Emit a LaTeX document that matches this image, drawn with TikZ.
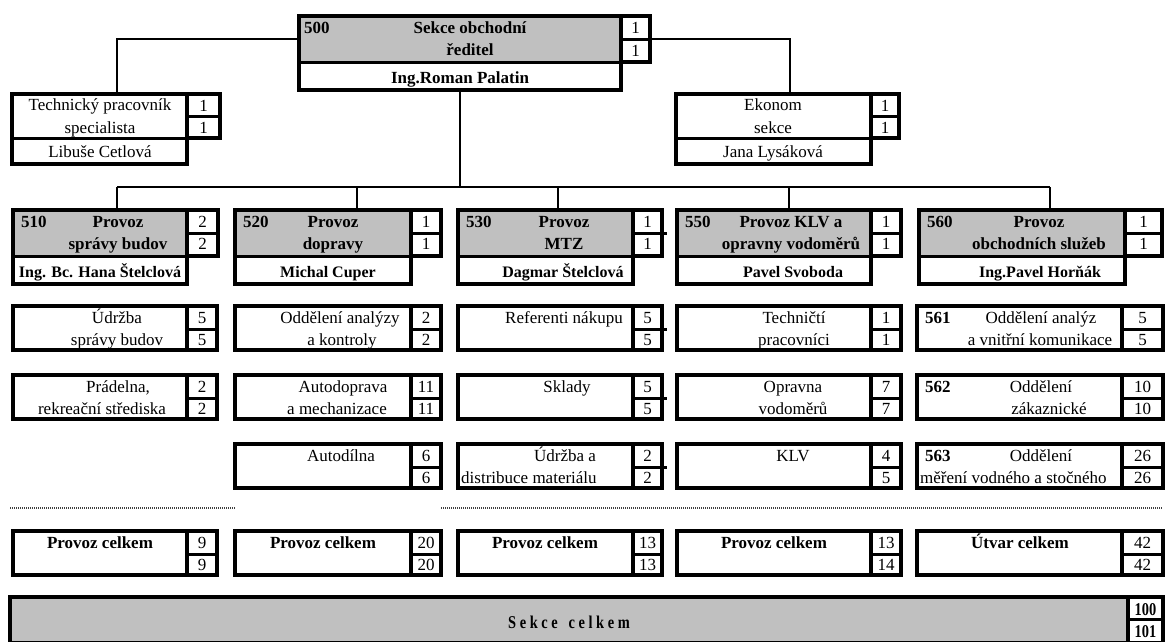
\documentclass[tikz,border=0pt]{standalone}
\usepackage{fontspec}
\setmainfont{Liberation Serif}
\newfontfamily\narrowf[FakeStretch=0.8]{Liberation Serif}
\definecolor{xg}{RGB}{192,192,192}
\newcommand\fs{\fontsize{17}{20}\selectfont}
\newcommand\fsb{\fontsize{17}{20}\selectfont\bfseries}
\newcommand\fsn{\fontsize{16}{19}\selectfont\bfseries}
\newcommand\fsk{\fontsize{18}{21}\selectfont\narrowf\bfseries}
\tikzset{
  unit/.style={draw, line width=3.5pt, inner sep=0pt, outer sep=0pt},
  sepl/.style={line width=3pt},
  conn/.style={line width=1.8pt},
  t/.style={inner sep=0pt, anchor=base, font=\fs},
  tb/.style={t, font=\fsb},
  tn/.style={t, font=\fsn},
  tk/.style={t, font=\fsk},
  dots/.style={line width=2pt, black!75, dash pattern=on 1pt off 1pt},
}
% name, xl, xr, xn, yt, ys, ym, yb
\newcommand\cellbox[8]{%
  \node[unit, minimum width={(#3-#2)*1pt}, minimum height={(#8-#5)*1pt}] (#1) at ({(#2+#3)/2},{(#5+#8)/2}) {};
  \node[unit, minimum width={(#4-#3)*1pt}, minimum height={(#7-#5)*1pt}] (#1n) at ({(#3+#4)/2},{(#5+#7)/2}) {};
  \draw[sepl] (#3,#6) -- (#4,#6);}
\newcommand\namesep[3]{\draw[sepl] (#1,#3) -- (#2,#3);}
\newcommand\grayhead[4]{\fill[xg] (#1,#2) rectangle (#3,#4);}
\newcommand\tx[5][t]{\node[#1] (#2) at (#3,#4) {#5};}
% name, x, y1, y2, a, b
\newcommand\nums[6]{\node[t] (#1a) at (#2,#3) {#5};\node[t] (#1b) at (#2,#4) {#6};}
\newcommand\deptbox[4]{\grayhead{#2}{210}{#3}{256}\cellbox{#1}{#2}{#3}{#4}{210}{233}{256}{284}\namesep{#2}{#3}{256}}
\newcommand\rowbox[5]{\cellbox{#1}{#2}{#3}{#4}{#5}{#5+23}{#5+44}{#5+44}}
\begin{document}
\begin{tikzpicture}[x=1pt,y=-1pt]
\useasboundingbox (0,0) rectangle (1165,641);
% ---------- top box
\grayhead{299}{16}{621}{62}
\cellbox{top}{299}{621}{650}{16}{39}{62}{90}
\namesep{299}{621}{62}
\tx[tb, anchor=base west]{t500}{304}{33}{500}
\tx[tb]{t500a}{470}{33}{Sekce obchodní}
\tx[tb]{t500b}{470}{55}{ředitel}
\tx[tb]{t500c}{460}{83}{Ing.Roman Palatin}
\nums{n500}{635.5}{33}{56}{1}{1}
% ---------- staff boxes
\cellbox{tech}{12}{187}{220}{94}{116}{138}{164}
\namesep{12}{187}{138}
\tx{tta}{100}{110}{Technický pracovník}
\tx{ttb}{100}{133}{specialista}
\tx{ttc}{100}{157}{Libuše Cetlová}
\nums{ntech}{203.5}{111}{133}{1}{1}
\cellbox{ekon}{676}{871}{899}{94}{116}{138}{164}
\namesep{676}{871}{138}
\tx{tea}{773}{110}{Ekonom}
\tx{teb}{773}{133}{sekce}
\tx{tec}{773}{157}{Jana Lysáková}
\nums{nekon}{885}{111}{133}{1}{1}
% ---------- departments
\deptbox{d510}{13}{187}{218}
\tx[tb, anchor=base west]{c510}{21}{227}{510}
\tx[tb]{d510a}{118}{227}{Provoz}
\tx[tb]{d510b}{118}{249}{správy budov}
\tx[tn]{d510c}{100}{277}{Ing. Bc. Hana Štelclová}
\nums{nd510}{202.5}{227}{249}{2}{2}
\deptbox{d520}{235}{411}{441}
\tx[tb, anchor=base west]{c520}{243}{227}{520}
\tx[tb]{d520a}{333}{227}{Provoz}
\tx[tb]{d520b}{333}{249}{dopravy}
\tx[tn]{d520c}{328}{277}{Michal Cuper}
\nums{nd520}{426}{227}{249}{1}{1}
\deptbox{d530}{458}{633}{662}
\tx[tb, anchor=base west]{c530}{466}{227}{530}
\tx[tb]{d530a}{564}{227}{Provoz}
\tx[tb]{d530b}{564}{249}{MTZ}
\tx[tn]{d530c}{563}{277}{Dagmar Štelclová}
\nums{nd530}{647.5}{227}{249}{1}{1}
\draw[sepl] (662,233) -- (667,233);
\deptbox{d550}{677}{871}{901}
\tx[tb, anchor=base west]{c550}{685}{227}{550}
\tx[tb]{d550a}{791}{227}{Provoz KLV a}
\tx[tb]{d550b}{791}{249}{opravny vodoměrů}
\tx[tn]{d550c}{793}{277}{Pavel Svoboda}
\nums{nd550}{886}{227}{249}{1}{1}
\deptbox{d560}{919}{1125}{1162}
\tx[tb, anchor=base west]{c560}{927}{227}{560}
\tx[tb]{d560a}{1039}{227}{Provoz}
\tx[tb]{d560b}{1039}{249}{obchodních služeb}
\tx[tn]{d560c}{1040}{277}{Ing.Pavel Horňák}
\nums{nd560}{1143.5}{227}{249}{1}{1}
% ---------- connectors
\coordinate (jL) at (117,39);
\coordinate (jR) at (790,39);
\draw[conn] (top.west |- jL) -- (jL) -- (jL |- tech.north);
\draw[conn] (topn.east |- jR) -- (jR) -- (jR |- ekon.north);
\coordinate (bus) at (460,187);
\coordinate (b1) at (117,187);
\coordinate (b2) at (357,187);
\coordinate (b3) at (558,187);
\coordinate (b4) at (789,187);
\coordinate (b5) at (1050,187);
\draw[conn] (top.south) -- (top.south |- bus);
\draw[conn] (b1) -- (b5);
\foreach \i/\n in {1/d510,2/d520,3/d530,4/d550,5/d560}
  \draw[conn] (b\i) -- (b\i |- \n.north);
% ---------- column 1
\rowbox{r11}{13}{187}{217}{306}
\tx{r11a}{117}{323}{Údržba}
\tx{r11b}{117}{345}{správy budov}
\nums{nr11}{202}{323}{345}{5}{5}
\rowbox{r12}{13}{187}{217}{375}
\tx{r12a}{118}{392}{Prádelna,}
\tx{r12b}{102}{414}{rekreační střediska}
\nums{nr12}{202}{392}{414}{2}{2}
% ---------- column 2
\rowbox{r21}{235}{411}{441}{306}
\tx{r21a}{340}{323}{Oddělení analýzy}
\tx{r21b}{342}{345}{a kontroly}
\nums{nr21}{426}{323}{345}{2}{2}
\rowbox{r22}{235}{411}{441}{375}
\tx{r22a}{343}{392}{Autodoprava}
\tx{r22b}{337}{414}{a mechanizace}
\nums{nr22}{426}{392}{414}{11}{11}
\rowbox{r23}{235}{411}{441}{444}
\tx{r23a}{341}{461}{Autodílna}
\nums{nr23}{426}{461}{483}{6}{6}
% ---------- column 3
\rowbox{r31}{458}{633}{662}{306}
\tx{r31a}{564}{323}{Referenti nákupu}
\nums{nr31}{647.5}{323}{345}{5}{5}
\draw[sepl] (662,329) -- (667,329);
\rowbox{r32}{458}{633}{662}{375}
\tx{r32a}{567}{392}{Sklady}
\nums{nr32}{647.5}{392}{414}{5}{5}
\draw[sepl] (662,398) -- (667,398);
\rowbox{r33}{458}{633}{662}{444}
\tx{r33a}{565}{461}{Údržba a}
\tx[t, anchor=base west]{r33b}{461}{483}{distribuce materiálu}
\nums{nr33}{647.5}{461}{483}{2}{2}
\draw[sepl] (662,467) -- (667,467);
% ---------- column 4
\rowbox{r41}{677}{871}{901}{306}
\tx{r41a}{794}{323}{Techničtí}
\tx{r41b}{794}{345}{pracovníci}
\nums{nr41}{886}{323}{345}{1}{1}
\rowbox{r42}{677}{871}{901}{375}
\tx{r42a}{793}{392}{Opravna}
\tx{r42b}{793}{414}{vodoměrů}
\nums{nr42}{886}{392}{414}{7}{7}
\rowbox{r43}{677}{871}{901}{444}
\tx{r43a}{793}{461}{KLV}
\nums{nr43}{886}{461}{483}{4}{5}
% ---------- column 5
\rowbox{r51}{917}{1122}{1163}{306}
\tx[tb, anchor=base west]{c561}{925}{323}{561}
\tx{r51a}{1041}{323}{Oddělení analýz}
\tx{r51b}{1040}{345}{a vnitřní komunikace}
\nums{nr51}{1142.5}{323}{345}{5}{5}
\rowbox{r52}{917}{1122}{1163}{375}
\tx[tb, anchor=base west]{c562}{925}{392}{562}
\tx{r52a}{1041}{392}{Oddělení}
\tx{r52b}{1049}{414}{zákaznické}
\nums{nr52}{1142.5}{392}{414}{10}{10}
\rowbox{r53}{917}{1122}{1163}{444}
\tx[tb, anchor=base west]{c563}{925}{461}{563}
\tx{r53a}{1041}{461}{Oddělení}
\tx[t, anchor=base west]{r53b}{920}{483}{měření vodného a stočného}
\nums{nr53}{1142.5}{461}{483}{26}{26}
% ---------- dotted separators
\coordinate (dA) at (10,508);
\coordinate (dB) at (235,508);
\coordinate (dC) at (441,508);
\coordinate (dD) at (1163,508);
\draw[dots] (dA) -- (dB);
\draw[dots] (dC) -- (dD);
% ---------- totals
\rowbox{s1}{13}{187}{217}{531}
\tx[tb]{s1a}{100}{548}{Provoz celkem}
\nums{ns1}{202}{548}{570}{9}{9}
\rowbox{s2}{235}{411}{441}{531}
\tx[tb]{s2a}{323}{548}{Provoz celkem}
\nums{ns2}{426}{548}{570}{20}{20}
\rowbox{s3}{458}{633}{662}{531}
\tx[tb]{s3a}{545}{548}{Provoz celkem}
\nums{ns3}{647.5}{548}{570}{13}{13}
\rowbox{s4}{677}{871}{901}{531}
\tx[tb]{s4a}{774}{548}{Provoz celkem}
\nums{ns4}{886}{548}{570}{13}{14}
\rowbox{s5}{917}{1122}{1163}{531}
\tx[tb]{s5a}{1020}{548}{Útvar celkem}
\nums{ns5}{1142.5}{548}{570}{42}{42}
% ---------- section total
\grayhead{10}{597}{1128}{643}
\cellbox{sekce}{10}{1128}{1163}{597}{619}{643}{643}
\tx[tk]{sekcet}{569}{628}{S e k c e \ \ c e l k e m}
\tx[tk]{nsa}{1145.5}{615}{100}
\tx[tk]{nsb}{1145.5}{637}{101}
\end{tikzpicture}
\end{document}
